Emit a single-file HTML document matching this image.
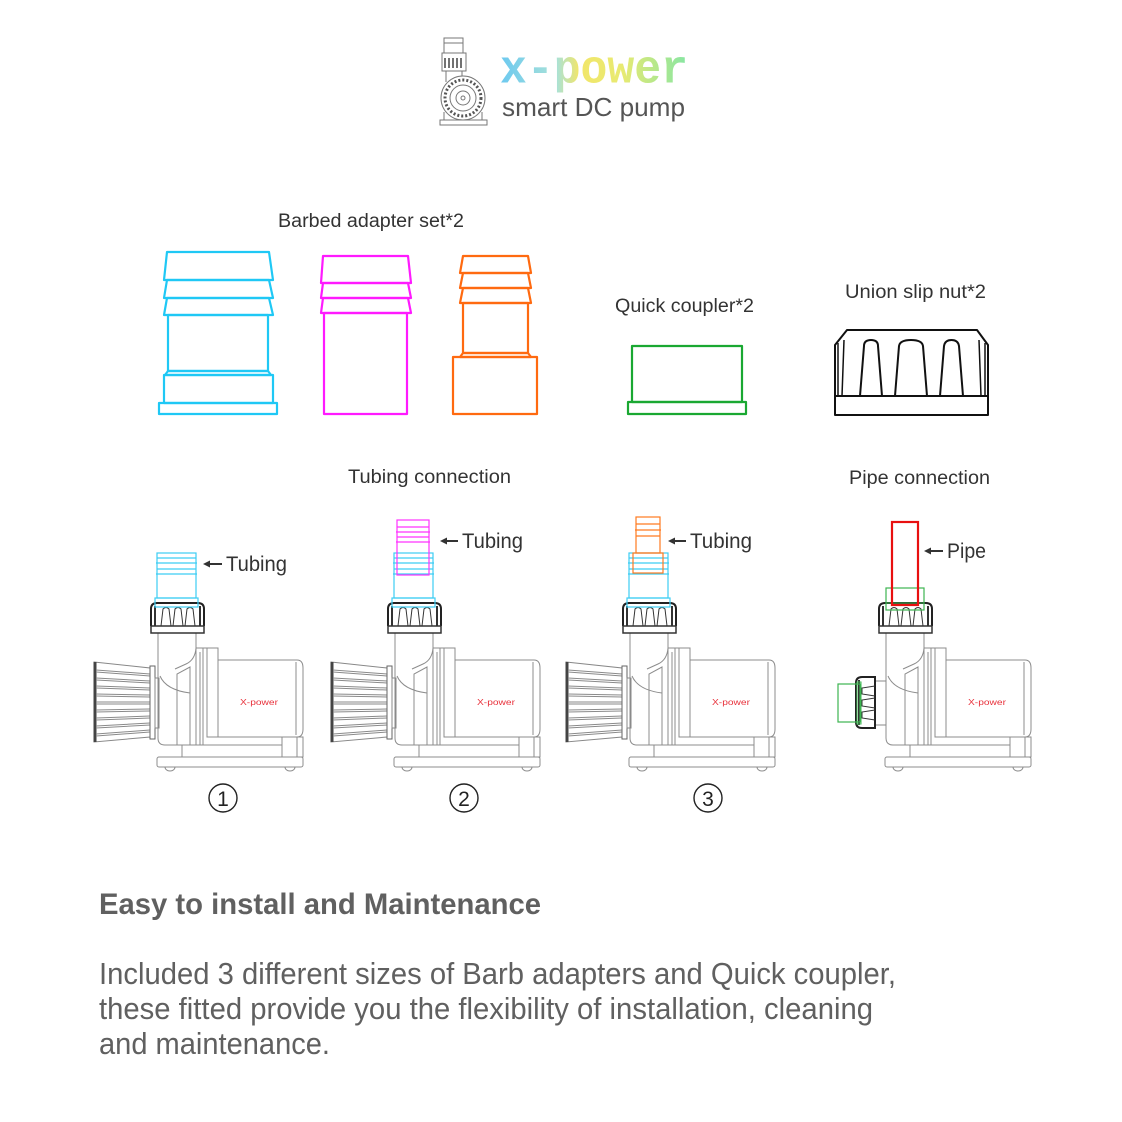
<!DOCTYPE html>
<html><head><meta charset="utf-8"><style>
html,body{margin:0;padding:0;background:#fff;}
svg{display:block;}
</style></head><body>
<svg width="1122" height="1122" viewBox="0 0 1122 1122" xmlns="http://www.w3.org/2000/svg">
<defs>
<linearGradient id="xg" x1="500" y1="0" x2="688" y2="0" gradientUnits="userSpaceOnUse">
<stop offset="0" stop-color="#6cc9f0"/><stop offset="0.3" stop-color="#a9e2d8"/><stop offset="0.42" stop-color="#f2e66a"/><stop offset="0.65" stop-color="#e8ea72"/><stop offset="1" stop-color="#86e6a4"/>
</linearGradient>
<g id="body" fill="none" stroke="#8c8c8c" stroke-width="1">
 <path d="M158,633 L158,738 Q158,745 165,745 L203,745"/>
 <path d="M196,633 L196,648"/>
 <path d="M196,648 Q195,660 186,664 L175,669"/>
 <path d="M160,676 Q166,690 190,693"/>
 <path d="M177,745 L177,674 L190,667 L190,745"/>
 <path d="M196,648 L196,745 M200,652 L200,745 M203,648 L203,737"/>
 <path d="M196,648 L218,648"/>
 <rect x="207" y="648" width="11" height="89"/>
 <path d="M218,660 L297,660 Q303,660 303,668 L303,729 Q303,737 297,737 L218,737"/>
 <path d="M296,662 L296,735"/>
 <path d="M203,737 L203,745 L282,745 M182,745 L182,757"/>
 <rect x="282" y="737" width="21" height="20"/>
 <path d="M297,737 L297,757"/>
 <rect x="157" y="757" width="146" height="10" rx="2" fill="#fff"/>
 <path d="M165,767 A5,4 0 0 0 175,767 M285,767 A5,4 0 0 0 295,767"/>
 <text x="240" y="705" font-family="Liberation Sans, sans-serif" font-size="8" fill="#e8323c" stroke="none" textLength="38" lengthAdjust="spacingAndGlyphs">X-power</text>
</g>
<g id="nut">
 <path d="M151,626 L151,609 Q151,603 157,603 L198,603 Q204,603 204,609 L204,626" stroke="#222" stroke-width="2" fill="#fff"/>
 <rect x="151" y="626" width="53" height="7" stroke="#333" stroke-width="1.5" fill="#fff"/>
 <path d="M155,606 L155,626 M200,606 L200,626" stroke="#333" stroke-width="2"/>
 <path d="M161,626 L163,609 Q166,606 169,609 L171,626 M173,626 L175,609 Q178,606 181,609 L183,626 M185,626 L187,609 Q190,606 193,609 L195,626" stroke="#333" stroke-width="1" fill="none"/>
</g>
<g id="cyan" fill="none" stroke="#3ccdf3" stroke-width="1.2">
 <rect x="157" y="553" width="39" height="45"/>
 <path d="M157,558 L196,558 M156,563 L197,563 M157,569 L196,569 M156,574 L197,574"/>
 <rect x="155" y="598" width="43" height="9"/>
</g>
<g id="strainer">
 <path d="M94,662 L150,668 L150,737 L94,742 Z" stroke="#888" stroke-width="1" fill="#fff"/>
 <path d="M95,662 L95,742" stroke="#444" stroke-width="3"/>
 <g stroke="#8a8a8a" stroke-width="1">
  <path d="M96,670 L150,674 M96,672 L150,676"/>
  <path d="M96,678 L150,681 M96,680 L150,683"/>
  <path d="M96,686 L150,688 M96,688 L150,690"/>
  <path d="M96,694 L150,695 M96,696 L150,697"/>
  <path d="M96,702 L150,702 M96,704 L150,704"/>
  <path d="M96,710 L150,709 M96,712 L150,711"/>
  <path d="M96,718 L150,716 M96,720 L150,718"/>
  <path d="M96,726 L150,723 M96,728 L150,725"/>
  <path d="M96,734 L150,730 M96,736 L150,732"/>
 </g>
 <rect x="150" y="666" width="5" height="73" stroke="#666" fill="#fff"/>
 <rect x="155" y="678" width="4" height="50" stroke="#888" fill="#fff"/>
</g>
</defs>

<!-- Header logo -->
<g fill="none" stroke="#777" stroke-width="1">
 <rect x="444" y="38" width="19" height="15"/>
 <path d="M444,43 L463,43"/>
 <rect x="442" y="53" width="24" height="18" fill="#fff"/>
 <path d="M445,58 L445,68 M449,58 L449,68 M453,58 L453,68 M457,58 L457,68 M461,58 L461,68" stroke="#444" stroke-width="1.5"/>
 <path d="M446,71 L446,82 M462,71 L462,78"/>
 <circle cx="463" cy="98" r="22" fill="#fff"/>
 <circle cx="463" cy="98" r="18" stroke="#555" stroke-width="3" stroke-dasharray="2 2"/>
 <circle cx="463" cy="98" r="13"/>
 <circle cx="463" cy="98" r="7"/>
 <circle cx="463" cy="98" r="2"/>
 <path d="M440,120 L487,120 L487,125 L440,125 Z"/>
 <path d="M444,112 L444,120 M482,112 L482,120"/>
</g>
<text x="500" y="80" font-family="Liberation Mono, monospace" font-weight="bold" font-size="38" fill="url(#xg)" textLength="188" lengthAdjust="spacingAndGlyphs" transform="translate(0,80) scale(1,1.25) translate(0,-78)">x-power</text>
<text x="502" y="116" font-family="Liberation Sans, sans-serif" font-size="26" fill="#555" textLength="183" lengthAdjust="spacingAndGlyphs">smart DC pump</text>

<!-- Labels -->
<g font-family="Liberation Sans, sans-serif" fill="#333" font-size="19">
 <text x="278" y="227" textLength="186" lengthAdjust="spacingAndGlyphs">Barbed adapter set*2</text>
 <text x="615" y="312" textLength="139" lengthAdjust="spacingAndGlyphs">Quick coupler*2</text>
 <text x="845" y="298" textLength="141" lengthAdjust="spacingAndGlyphs">Union slip nut*2</text>
 <text x="348" y="483" textLength="163" lengthAdjust="spacingAndGlyphs">Tubing connection</text>
 <text x="849" y="484" textLength="141" lengthAdjust="spacingAndGlyphs">Pipe connection</text>
</g>

<!-- Cyan adapter -->
<g fill="none" stroke="#1fc8f5" stroke-width="2.2" stroke-linejoin="round">
 <path d="M167,252 L269,252 L273,280 L164,280 Z"/>
 <path d="M167,280 L269,280 L273,298 L164,298 Z"/>
 <path d="M167,298 L269,298 L273,315 L164,315 Z"/>
 <rect x="168" y="315" width="100" height="56"/>
 <path d="M168,371 L268,371 L271,375 L165,375 Z"/>
 <rect x="164" y="375" width="109" height="28"/>
 <rect x="159" y="403" width="118" height="11"/>
</g>
<!-- Magenta adapter -->
<g fill="none" stroke="#ff1aff" stroke-width="2.2" stroke-linejoin="round">
 <path d="M323,256 L408,256 L411,283 L321,283 Z"/>
 <path d="M323,283 L408,283 L411,298 L321,298 Z"/>
 <path d="M323,298 L408,298 L411,313 L321,313 Z"/>
 <rect x="324" y="313" width="83" height="101"/>
</g>
<!-- Orange adapter -->
<g fill="none" stroke="#ff6a10" stroke-width="2.2" stroke-linejoin="round">
 <path d="M463,256 L528,256 L531,273 L460,273 Z"/>
 <path d="M463,273 L528,273 L531,288 L460,288 Z"/>
 <path d="M463,288 L528,288 L531,303 L460,303 Z"/>
 <rect x="463" y="303" width="65" height="50"/>
 <path d="M463,353 L528,353 L531,357 L460,357 Z"/>
 <rect x="453" y="357" width="84" height="57"/>
</g>
<!-- Green quick coupler -->
<g fill="none" stroke="#1aa832" stroke-width="2.2" stroke-linejoin="round">
 <rect x="632" y="346" width="110" height="56"/>
 <rect x="628" y="402" width="118" height="12"/>
</g>
<!-- Union slip nut -->
<g fill="none" stroke="#111" stroke-width="2" stroke-linejoin="round">
 <path d="M835,396 L835,345 L847,330 L977,330 L988,345 L988,396"/>
 <rect x="835" y="396" width="153" height="19"/>
 <path d="M838,396 L838,343 M842,396 L844,340 M985,396 L985,343 M981,396 L979,340" stroke-width="1.5"/>
 <path d="M860,396 L864,346 Q864,340 871,340 Q878,340 878,346 L882,396"/>
 <path d="M895,396 L899,346 Q900,340 911,340 Q922,340 923,346 L927,396"/>
 <path d="M940,396 L944,346 Q945,340 951.5,340 Q958,340 959,346 L963,396"/>
</g>

<!-- Pump 1 -->
<g>
 <use href="#strainer"/><use href="#body"/><use href="#nut"/><use href="#cyan"/>
</g>
<!-- Pump 2 -->
<g transform="translate(237,0)">
 <use href="#strainer"/><use href="#body"/><use href="#nut"/><use href="#cyan"/>
 <g fill="none" stroke="#ff33ff" stroke-width="1.2">
  <rect x="160" y="520" width="32" height="55"/>
  <path d="M160,527 L192,527 M159,532 L193,532 M160,537 L192,537 M159,542 L193,542"/>
 </g>
</g>
<!-- Pump 3 -->
<g transform="translate(472,0)">
 <use href="#strainer"/><use href="#body"/><use href="#nut"/><use href="#cyan"/>
 <g fill="none" stroke="#ff7a20" stroke-width="1.2">
  <rect x="164" y="517" width="24" height="36"/>
  <path d="M164,524 L188,524 M163,530 L189,530 M164,536 L188,536"/>
  <rect x="161" y="553" width="30" height="20"/>
 </g>
</g>
<!-- Pump 4 -->
<g transform="translate(728,0)">
 <use href="#body"/><use href="#nut"/>
 <rect x="158" y="588" width="38" height="22" fill="none" stroke="#3cb550" stroke-width="1.2"/>
 <path d="M158,603 L196,603" stroke="#3cb550" stroke-width="1"/>
 <rect x="164" y="522" width="26" height="83" fill="none" stroke="#e81010" stroke-width="2.2"/>
</g>
<!-- Pump 4 side coupling -->
<g>
 <rect x="875" y="681" width="11" height="44" fill="#fff" stroke="#888"/>
 <path d="M875,677 L862,677 Q856,677 856,683 L856,722 Q856,728 862,728 L875,728 Z" fill="#fff" stroke="#222" stroke-width="2"/>
 <path d="M859,680 L859,725" stroke="#333" stroke-width="2"/>
 <path d="M875,686 L862,688 L862,694 L875,696 M875,698 L862,700 L862,706 L875,708 M875,710 L862,712 L862,718 L875,720" fill="none" stroke="#333" stroke-width="1"/>
 <rect x="838" y="684" width="22" height="38" fill="none" stroke="#3cb550" stroke-width="1.2"/>
 <rect x="857" y="682" width="4" height="42" fill="none" stroke="#3cb550" stroke-width="1"/>
</g>

<!-- Arrows + labels -->
<g stroke="#333" stroke-width="2" fill="none">
 <path d="M222,564 L207,564"/>
 <path d="M458,541 L444,541"/>
 <path d="M686,541 L672,541"/>
 <path d="M943,551 L928,551"/>
</g>
<g fill="#333">
 <path d="M203,564 L210,560.5 L210,567.5 Z"/>
 <path d="M440,541 L447,537.5 L447,544.5 Z"/>
 <path d="M668,541 L675,537.5 L675,544.5 Z"/>
 <path d="M924,551 L931,547.5 L931,554.5 Z"/>
</g>
<g font-family="Liberation Sans, sans-serif" fill="#333" font-size="21">
 <text x="226" y="571" textLength="61" lengthAdjust="spacingAndGlyphs">Tubing</text>
 <text x="462" y="548" textLength="61" lengthAdjust="spacingAndGlyphs">Tubing</text>
 <text x="690" y="548" textLength="62" lengthAdjust="spacingAndGlyphs">Tubing</text>
 <text x="947" y="558" textLength="39" lengthAdjust="spacingAndGlyphs">Pipe</text>
</g>

<!-- Circled numbers -->
<g fill="none" stroke="#222" stroke-width="1.4">
 <circle cx="223" cy="798" r="14"/>
 <circle cx="464" cy="798" r="14"/>
 <circle cx="708" cy="798" r="14"/>
</g>
<g font-family="Liberation Sans, sans-serif" fill="#222" font-size="21" text-anchor="middle">
 <text x="223" y="806">1</text>
 <text x="464" y="806">2</text>
 <text x="708" y="806">3</text>
</g>

<!-- Bottom text -->
<text x="99" y="914" font-family="Liberation Sans, sans-serif" font-weight="bold" font-size="30" fill="#606060" textLength="442" lengthAdjust="spacingAndGlyphs">Easy to install and Maintenance</text>
<g font-family="Liberation Sans, sans-serif" font-size="31" fill="#606060">
 <text x="99" y="984" textLength="797" lengthAdjust="spacingAndGlyphs">Included 3 different sizes of Barb adapters and Quick coupler,</text>
 <text x="99" y="1019" textLength="774" lengthAdjust="spacingAndGlyphs">these fitted provide you the flexibility of installation, cleaning</text>
 <text x="99" y="1054" textLength="231" lengthAdjust="spacingAndGlyphs">and maintenance.</text>
</g>
</svg>
</body></html>
